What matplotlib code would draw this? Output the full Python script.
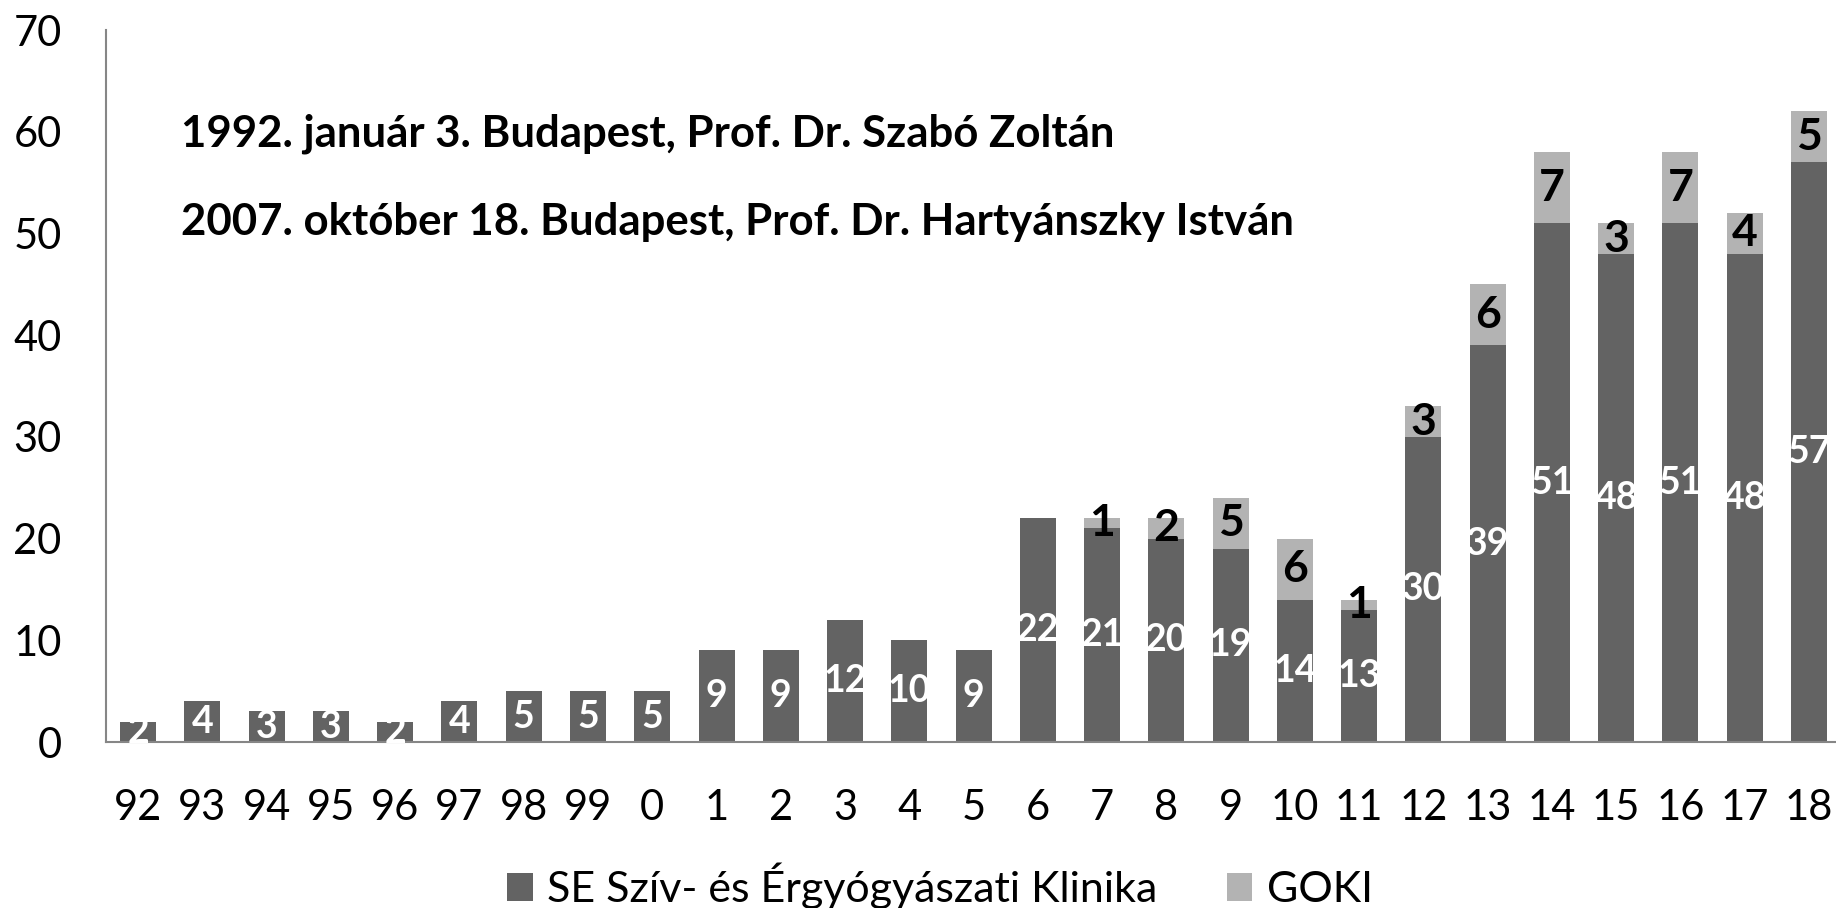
import matplotlib
matplotlib.use("Agg")
import matplotlib.pyplot as plt
import numpy as np

years = ["92", "93", "94", "95", "96", "97", "98", "99", "0", "1", "2", "3", "4",
         "5", "6", "7", "8", "9", "10", "11", "12", "13", "14", "15", "16", "17", "18"]
se_klinika = [2, 4, 3, 3, 2, 4, 5, 5, 5, 9, 9, 12, 10, 9, 22, 21, 20, 19, 14, 13,
              30, 39, 51, 48, 51, 48, 57]
goki = [0, 0, 0, 0, 0, 0, 0, 0, 0, 0, 0, 0, 0, 0, 0, 1, 2, 5, 6, 1,
        3, 6, 7, 3, 7, 4, 5]
notes = ["1992. január 3. Budapest, Prof. Dr. Szabó Zoltán",
         "2007. október 18. Budapest, Prof. Dr. Hartyánszky István"]

DARK = "#636363"
LIGHT = "#b3b3b3"
AXIS = "#868686"
FONT = ["Lato", "DejaVu Sans"]
plt.rcParams["font.family"] = FONT

fig = plt.figure(figsize=(18.36, 9.08), dpi=100)
ax = fig.add_axes([106 / 1836, 1 - 742 / 908, 1 - 106 / 1836, (742 - 30) / 908])

x = np.arange(len(years))
b1 = ax.bar(x, se_klinika, width=0.56, color=DARK, label="SE Szív- és Érgyógyászati Klinika")
b2 = ax.bar(x, goki, width=0.56, bottom=se_klinika, color=LIGHT, label="GOKI")

ax.bar_label(b1, labels=[str(v) for v in se_klinika], label_type="center",
             color="white", fontweight="bold", fontsize=27)
ax.bar_label(b2, labels=[str(v) if v else "" for v in goki], label_type="center",
             color="black", fontweight="bold", fontsize=32)

ax.set_xlim(-0.5, 26.42)
ax.set_ylim(0, 70)
ax.set_yticks(range(0, 71, 10))
ax.set_xticks(x)
ax.set_xticklabels(years)
ax.tick_params(length=0, labelsize=30)
ax.tick_params(axis="y", pad=32)
ax.tick_params(axis="x", pad=34)

for s in ["top", "right"]:
    ax.spines[s].set_visible(False)
for s in ["left", "bottom"]:
    ax.spines[s].set_color(AXIS)
    ax.spines[s].set_linewidth(1.5)

fig.text(181 / 1836, 1 - 134 / 908, notes[0], fontsize=31.5, fontweight="bold", va="center")
fig.text(181 / 1836, 1 - 222 / 908, notes[1], fontsize=31.5, fontweight="bold", va="center")

fig.legend(handles=[b1, b2], loc="center", bbox_to_anchor=(940 / 1836, 1 - 886 / 908),
           ncol=2, frameon=False, handlelength=0.6, handleheight=0.63, handletextpad=0.33,
           columnspacing=1.6, fontsize=31)

fig.savefig("out.png", dpi=100)
